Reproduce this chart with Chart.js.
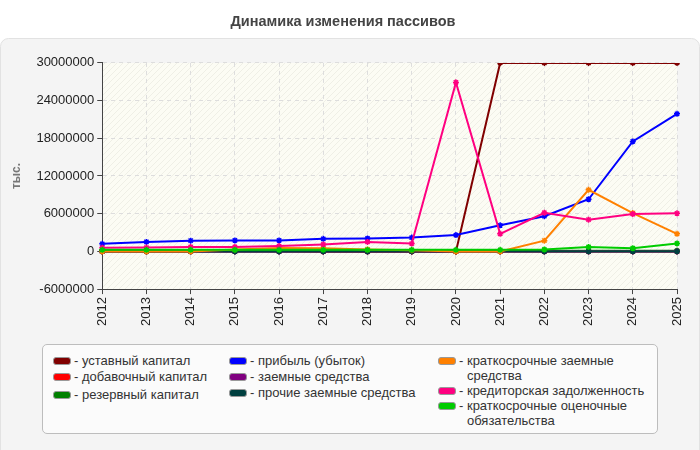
<!DOCTYPE html>
<html>
<head>
<meta charset="utf-8">
<script src="https://cdn.jsdelivr.net/npm/chart.js@4"></script>
<style>
  html, body { margin: 0; padding: 0; background: #fff; }
  #wrap { position: relative; width: 700px; height: 450px; font-family: "Liberation Sans", Arial, sans-serif; }
  #chart { position: absolute; left: 0; top: 0; }
  #legend { position: absolute; left: 42px; top: 344px; width: 616px; height: 90px; border: 1px solid #bdbdbd; border-radius: 5px; background: #fbfbfb; box-sizing: border-box; }
  .col { position: absolute; top: 8px; }
  .item { display: flex; align-items: flex-start; font-size: 13px; color: #333; line-height: 15px; margin-bottom: 1px; }
  .col2 .item { margin-bottom: 0; }
  .col0 .item:nth-child(2) { margin-bottom: 3px; }
  .sw { width: 16px; height: 6px; border: 1px solid #999; border-radius: 3px; margin: 4px 3px 0 0; flex: none; }
  .dash { flex: none; white-space: pre; }
</style>
</head>
<body>
<div id="wrap">
  <canvas id="chart" width="700" height="450"></canvas>
  <div id="legend"></div>
</div>
<script>
// Годы
const years = ['2012','2013','2014','2015','2016','2017','2018','2019','2020','2021','2022','2023','2024','2025'];

// Значения, тыс.
const ustavny      = [0, 0, 0, 0, 0, 0, 0, 0, 0, 30000000, 30000000, 30000000, 30000000, 30000000];
const dobavochny   = [50000, 50000, 50000, 50000, 50000, 0, 0, 0, 0, 0, 0, 0, 0, 0];
const rezervny     = [100000, 100000, 100000, 100000, 100000, 100000, 100000, 100000, 100000, 100000, 100000, 100000, 100000, 100000];
const pribyl       = [1200000, 1500000, 1700000, 1750000, 1750000, 2000000, 2050000, 2200000, 2600000, 4150000, 5600000, 8300000, 17500000, 21900000];
const zaemnye      = [0, 0, 0, 0, 0, 0, 0, 0, 0, 0, 0, 0, 0, 0];
const prochie      = [0, 0, 0, 0, 0, 0, 0, 0, 0, 0, 0, 0, 0, 0];
const kratkoZaem   = [0, 0, 0, 300000, 550000, 500000, 300000, 200000, 0, 0, 1700000, 9800000, 6100000, 2800000];
const kreditor     = [580000, 600000, 700000, 700000, 850000, 1100000, 1500000, 1250000, 26900000, 2800000, 6150000, 5050000, 5950000, 6050000];
const kratkoOcen   = [250000, 250000, 250000, 250000, 250000, 250000, 250000, 250000, 250000, 250000, 300000, 700000, 500000, 1260000];

const yTicks = { min: -6000000, max: 30000000, step: 6000000 };

const series = [
    { label: 'уставный капитал', data: ustavny, color: '#800000', col: 0 },
    { label: 'добавочный капитал', data: dobavochny, color: '#ff0000', col: 0 },
    { label: 'резервный капитал', data: rezervny, color: '#008000', col: 0 },
    { label: 'прибыль (убыток)', data: pribyl, color: '#0000ff', col: 1 },
    { label: 'заемные средства', data: zaemnye, color: '#800080', col: 1 },
    { label: 'прочие заемные средства', data: prochie, color: '#004040', col: 1 },
    { label: 'краткосрочные заемные средства', data: kratkoZaem, color: '#ff8000', col: 2 },
    { label: 'кредиторская задолженность', data: kreditor, color: '#ff0080', col: 2 },
    { label: 'краткосрочные оценочные обязательства', data: kratkoOcen, color: '#00cc00', col: 2 }
];

const FONT = '"Liberation Sans", Arial, sans-serif';

// штриховка фона области графика
function makeHatch() {
    const c = document.createElement('canvas');
    c.width = 6; c.height = 6;
    const g = c.getContext('2d');
    g.fillStyle = '#fcfcf4';
    g.fillRect(0, 0, 6, 6);
    g.strokeStyle = '#efefe6';
    g.lineWidth = 1;
    g.beginPath();
    g.moveTo(0, 6); g.lineTo(6, 0);
    g.moveTo(-1, 1); g.lineTo(1, -1);
    g.moveTo(5, 7); g.lineTo(7, 5);
    g.stroke();
    return g.createPattern(c, 'repeat');
}

function roundRect(ctx, x, y, w, h, r) {
    ctx.beginPath();
    ctx.moveTo(x + r, y);
    ctx.arcTo(x + w, y, x + w, y + h, r);
    ctx.arcTo(x + w, y + h, x, y + h, r);
    ctx.arcTo(x, y + h, x, y, r);
    ctx.arcTo(x, y, x + w, y, r);
    ctx.closePath();
}

const backgroundPlugin = {
    id: 'bg',
    beforeDraw(chart) {
        const ctx = chart.ctx;
        const a = chart.chartArea;
        ctx.save();
        ctx.fillStyle = '#ffffff';
        ctx.fillRect(0, 0, chart.width, chart.height);
        roundRect(ctx, 0.5, 38.5, 699, 420, 8);
        ctx.fillStyle = '#f4f4f4';
        ctx.fill();
        ctx.strokeStyle = '#e2e2e2';
        ctx.stroke();
        ctx.fillStyle = makeHatch();
        ctx.fillRect(a.left, a.top, a.right - a.left, a.bottom - a.top);
        ctx.restore();
    }
};

const config = {
    type: 'line',
    data: {
        labels: years,
        datasets: series.map((s, i) => ({
            label: s.label,
            data: s.data,
            borderColor: s.color,
            backgroundColor: s.color,
            borderWidth: 2,
            pointStyle: 'star',
            pointRadius: 3,
            pointBorderWidth: 1.5,
            tension: 0,
            fill: false,
            order: series.length - i
        }))
    },
    options: {
        responsive: false,
        animation: false,
        layout: { padding: { left: 9, right: 23, top: 0, bottom: 121 } },
        plugins: {
            legend: { display: false },
            tooltip: { enabled: false },
            title: {
                display: true,
                text: 'Динамика изменения пассивов',
                color: '#444',
                font: { family: FONT, size: 14.5, weight: 'bold' },
                padding: { top: 13, bottom: 32.5 }
            }
        },
        scales: {
            x: {
                offset: false,
                ticks: {
                    color: '#222',
                    minRotation: 90, maxRotation: 90,
                    font: { family: FONT, size: 13 },
                    padding: 3
                },
                grid: { color: '#dddddd', tickColor: '#444', tickLength: 5 },
                border: { color: '#444', width: 1, dash: [4, 4] }
            },
            y: {
                min: yTicks.min,
                max: yTicks.max,
                ticks: {
                    stepSize: yTicks.step,
                    color: '#222',
                    font: { family: FONT, size: 13 },
                    padding: 3,
                    callback: v => String(v)
                },
                grid: { color: '#dddddd', tickColor: '#444', tickLength: 5 },
                border: { color: '#444', width: 1, dash: [4, 4] },
                title: {
                    display: true,
                    text: 'тыс.',
                    color: '#777',
                    font: { family: FONT, size: 12, weight: 'bold' },
                    padding: { top: 0, bottom: 10 }
                }
            }
        }
    },
    plugins: [backgroundPlugin]
};

const myChart = new Chart(document.getElementById('chart'), config);

// легенда в три колонки
const legend = document.getElementById('legend');
const colLeft = [10, 186, 395];
const colWidth = [170, 200, 215];
for (let c = 0; c < 3; c++) {
    const col = document.createElement('div');
    col.className = 'col col' + c;
    col.style.left = colLeft[c] + 'px';
    col.style.width = colWidth[c] + 'px';
    series.filter(s => s.col === c).forEach(s => {
        const it = document.createElement('div');
        it.className = 'item';
        it.innerHTML = '<span class="sw" style="background:' + s.color + '"></span>' +
            '<span class="dash">- </span><span>' + s.label + '</span>';
        col.appendChild(it);
    });
    legend.appendChild(col);
}
</script>
</body>
</html>
